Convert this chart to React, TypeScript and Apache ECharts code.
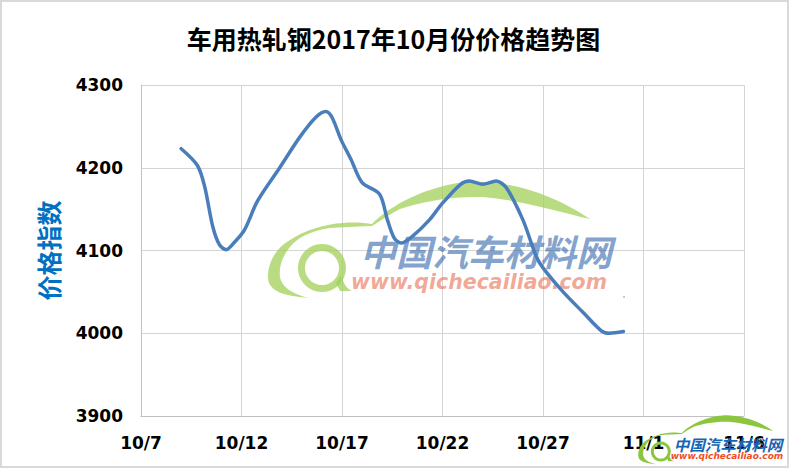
import React, { useEffect, useRef } from "react";
import * as echarts from "echarts";

const chartTitle = "车用热轧钢2017年10月份价格趋势图";
const yTitle = "价格指数";
const brandName = "中国汽车材料网";
const brandUrl = "www.qichecailiao.com";
const tickLabels = ["10/7", "10/12", "10/17", "10/22", "10/27", "11/1", "11/6"];
// days after 10/7
const dayOffsets = [
  2, 2.8, 3.16, 3.57, 3.9, 4.24, 4.65, 5.15, 5.8, 6.9, 7.9, 8.7, 9.2, 9.5, 9.95, 10.45, 11, 11.87,
  12.26, 12.6, 12.95, 13.5, 14.35, 14.96, 15.9, 16.34, 17, 17.67, 18.17, 19, 19.66, 20, 21, 22, 22.9, 23.3, 24,
];
const priceIndex = [
  4223, 4203, 4178, 4129, 4107, 4101, 4110, 4125, 4160, 4200, 4237, 4261, 4268, 4261, 4234, 4210, 4182, 4168,
  4137, 4115, 4109, 4117, 4137, 4156, 4180, 4184, 4180, 4184, 4176, 4137, 4093, 4079, 4050, 4025, 4003, 4000, 4002,
];

const swoosh =
  "M310 298 C285 296 268 292 268 277 C268 262 276 248 290 240 C305 230 325 224 343 223 C355 222 365 223 372 224 C382 213 405 198 430 190 C445 185 458 182 470 182 C510 180 555 195 590 219 C560 212 520 200 483 197 C450 196 420 202 400 209 C390 214 380 221 372 226 C355 227 340 227 330 228 C310 231 297 238 290 247 C281 258 279 268 280 277 C282 288 295 295 310 298 Z";
const qTail = "M336 283 L341 275 C343 283 347 289 352 291 L340 291 Z";
echarts.graphic.registerShape("carSwoosh", echarts.graphic.extendPath(swoosh as any, {}) as any);
echarts.graphic.registerShape("qTail", echarts.graphic.extendPath(qTail as any, {}) as any);

const italicBold = "italic bold";

export default function App() {
  const ref = useRef<HTMLDivElement>(null);
  useEffect(() => {
    document.body.style.margin = "0";
    const chart = echarts.init(ref.current!, undefined, { renderer: "svg" });
    const axisFont = { color: "#000", fontFamily: "DejaVu Sans", fontWeight: "bold" as const, fontSize: 17 };
    const gridLine = { color: "#d4d4d4", width: 1 };
    const green = "#a2d05a";
    chart.setOption({
      animation: false,
      backgroundColor: "#fff",
      title: {
        text: chartTitle,
        left: 388.5,
        top: 20,
        textAlign: "center",
        textStyle: { color: "#000", fontFamily: "Noto Sans CJK SC", fontWeight: "bold", fontSize: 25 },
      },
      grid: { left: 141, top: 85, width: 603, height: 331, show: false },
      xAxis: {
        type: "value",
        min: 0,
        max: 30,
        interval: 5,
        axisTick: { show: false },
        axisLine: { lineStyle: { color: "#bfbfbf", width: 1 } },
        axisLabel: { ...axisFont, margin: 18, showMinLabel: true, showMaxLabel: true, formatter: (v: number) => tickLabels[v / 5] },
        splitLine: { show: true, lineStyle: gridLine },
      },
      yAxis: {
        type: "value",
        min: 3900,
        max: 4300,
        interval: 100,
        name: yTitle,
        nameLocation: "middle",
        nameRotate: 90,
        nameGap: 81,
        nameTextStyle: { color: "#0070c0", fontFamily: "Noto Sans CJK SC", fontWeight: "bold", fontSize: 25 },
        axisTick: { show: false },
        axisLine: { show: true, lineStyle: { color: "#bfbfbf", width: 1 } },
        axisLabel: { ...axisFont, margin: 18, formatter: (v: number) => String(v) },
        splitLine: { show: true, lineStyle: gridLine },
      },
      series: [
        {
          type: "line",
          data: dayOffsets.map((d, i) => [d, priceIndex[i]]),
          smooth: 0.3,
          showSymbol: false,
          z: 5,
          lineStyle: { color: "#4a7ebb", width: 3.5, cap: "round" },
        },
      ],
      graphic: [
        { type: "rect", z: 200, silent: true, shape: { x: 1, y: 1, width: 787, height: 466 }, style: { fill: "none", stroke: "#d9d9d9", lineWidth: 2 } },
        {
          type: "group",
          silent: true,
          z: 1,
          children: [
            { type: "carSwoosh", z: 1, style: { fill: green, opacity: 0.75 } },
            { type: "ring", z: 1, shape: { cx: 322, cy: 268, r: 24, r0: 17 }, style: { fill: green, opacity: 0.75 } },
            { type: "qTail", z: 1, style: { fill: green, opacity: 0.75 } },
            { type: "text", z: 1, x: 486, y: 250, style: { text: brandName, fill: "rgba(60,110,175,0.65)", font: `${italicBold} 36px "Noto Sans CJK SC"`, textAlign: "center", textVerticalAlign: "middle" } },
            { type: "text", z: 1, x: 479, y: 282, style: { text: brandUrl, fill: "rgba(232,110,80,0.6)", font: `${italicBold} 20.5px "DejaVu Sans"`, textAlign: "center", textVerticalAlign: "middle" } },
            { type: "circle", z: 1, shape: { cx: 624, cy: 297, r: 0.8 }, style: { fill: "#aaa" } },
          ],
        },
        {
          type: "group",
          silent: true,
          z: 100,
          children: [
            { type: "carSwoosh", z: 100, x: 525.6, y: 339, scaleX: 0.42, scaleY: 0.42, style: { fill: "#8cc63f" } },
            { type: "ring", z: 100, shape: { cx: 660.8, cy: 451.6, r: 10, r0: 7 }, style: { fill: "#8cc63f" } },
            { type: "qTail", z: 100, x: 525.6, y: 339, scaleX: 0.42, scaleY: 0.42, style: { fill: "#8cc63f" } },
            { type: "text", z: 100, x: 728, y: 444, style: { text: brandName, fill: "#1565b5", font: `${italicBold} 15.5px "Noto Sans CJK SC"`, textAlign: "center", textVerticalAlign: "middle" } },
            { type: "text", z: 100, x: 727, y: 456, style: { text: brandUrl, fill: "#f04e23", font: `${italicBold} 9px "DejaVu Sans"`, textAlign: "center", textVerticalAlign: "middle" } },
          ],
        },
      ],
    });
    return () => chart.dispose();
  }, []);
  return <div ref={ref} style={{ width: 790, height: 469 }} />;
}
